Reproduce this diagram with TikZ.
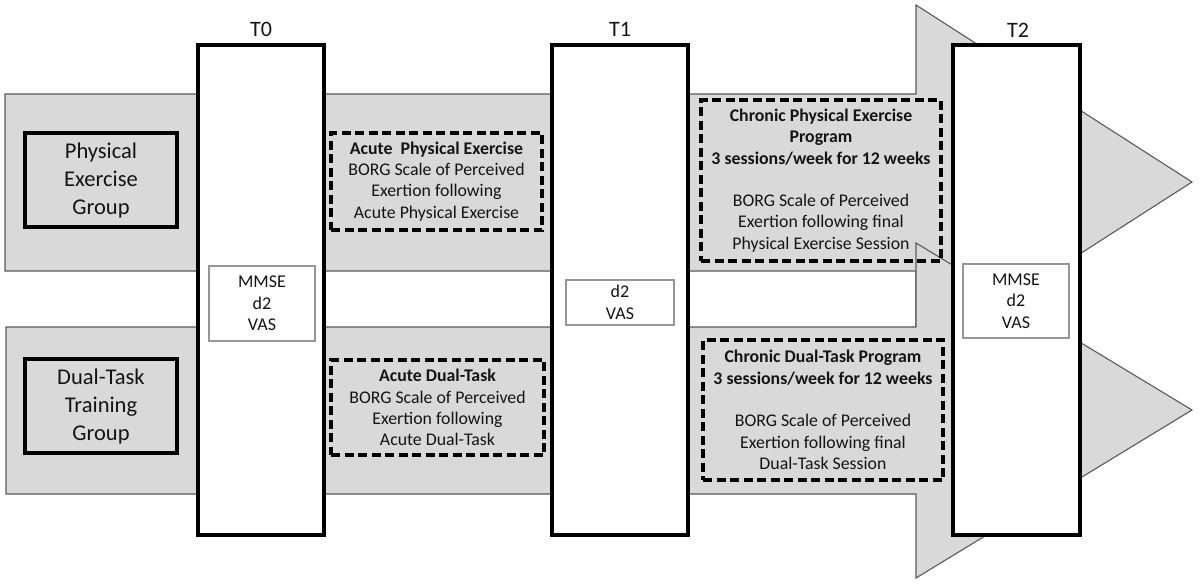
\documentclass[tikz,border=0pt]{standalone}
\usepackage{fontspec}
\setmainfont{Carlito}
\definecolor{bandgray}{RGB}{217,217,217}
\definecolor{edgegray}{RGB}{90,90,90}
\definecolor{boxgray}{RGB}{150,150,150}
\definecolor{ink}{RGB}{20,20,20}
\begin{document}
\begin{tikzpicture}[x=1pt,y=-1pt,
  band/.style={fill=bandgray, draw=edgegray, line width=1.1pt, line join=miter},
  tbox/.style={draw=black, fill=white, line width=3.4pt, inner sep=0pt},
  tlabel/.style={font=\fontsize{22}{26}\selectfont, text=ink},
  groupbox/.style={draw=black, line width=3.4pt, fill=bandgray, align=center, inner sep=0pt,
    text=ink, font=\fontsize{22.5}{28}\selectfont},
  measbox/.style={draw=boxgray, line width=1.8pt, fill=white, align=center, inner sep=0pt,
    text=ink, font=\fontsize{18}{21.5}\selectfont},
  dashbox/.style={draw=black, line width=3.1pt, dash pattern=on 9pt off 4.5pt, align=center,
    inner sep=0pt, text=ink, font=\fontsize{17.8}{21.3}\selectfont}
]
\useasboundingbox (0,0) rectangle (1200,584);
\fill[white] (0,0) rectangle (1200,584);

% upper arrow
\path[band] (5,94) -- (916,94) -- (916,5) -- (1192,182) -- (916,359) -- (916,271) -- (5,271) -- cycle;
% lower arrow
\path[band] (6,327) -- (916,327) -- (916,243) -- (1192,410) -- (916,578) -- (916,494) -- (6,494) -- cycle;

% time-point boxes
\node[tbox, minimum width=126pt, minimum height=490pt] (t0) at (261,290) {};
\node[tbox, minimum width=136pt, minimum height=490pt] (t1) at (620,290) {};
\node[tbox, minimum width=127pt, minimum height=490pt] (t2) at (1016.5,290) {};

\node[tlabel] (t0l) at (261,29) {T0};
\node[tlabel] (t1l) at (620,29) {T1};
\node[tlabel] (t2l) at (1018,30) {T2};

% group boxes
\node[groupbox, minimum width=152pt, minimum height=94pt] (peg) at (101,180) {Physical\\Exercise\\Group};
\node[groupbox, minimum width=152pt, minimum height=94pt] (dtg) at (101,406) {Dual-Task\\Training\\Group};

% measurement boxes
\node[measbox, minimum width=106pt, minimum height=75pt] (m0) at (262,303.5) {MMSE\\d2\\VAS};
\node[measbox, minimum width=108pt, minimum height=45pt] (m1) at (620,302.5) {d2\\VAS};
\node[measbox, minimum width=106pt, minimum height=74pt] (m2) at (1016,301) {MMSE\\d2\\VAS};

% acute sessions
\node[dashbox, minimum width=211pt, minimum height=97pt] (ape) at (436.5,181.5)
  {\textbf{Acute~ Physical Exercise}\\BORG Scale of Perceived\\Exertion following\\Acute Physical Exercise};
\node[dashbox, minimum width=213pt, minimum height=95pt] (adt) at (437.5,407.5)
  {\textbf{Acute Dual-Task}\\BORG Scale of Perceived\\Exertion following\\Acute Dual-Task};

% chronic programmes
\node[dashbox, minimum width=240pt, minimum height=161pt] (cpe) at (821,180.5)
  {\textbf{Chronic Physical Exercise}\\\textbf{Program}\\\textbf{3 sessions/week for 12 weeks}\\[21.3pt]BORG Scale of Perceived\\Exertion following final\\Physical Exercise Session};
\node[dashbox, minimum width=240pt, minimum height=140pt] (cdt) at (823,410)
  {\textbf{Chronic Dual-Task Program}\\\textbf{3 sessions/week for 12 weeks}\\[21.3pt]BORG Scale of Perceived\\Exertion following final\\Dual-Task Session};
\end{tikzpicture}
\end{document}
